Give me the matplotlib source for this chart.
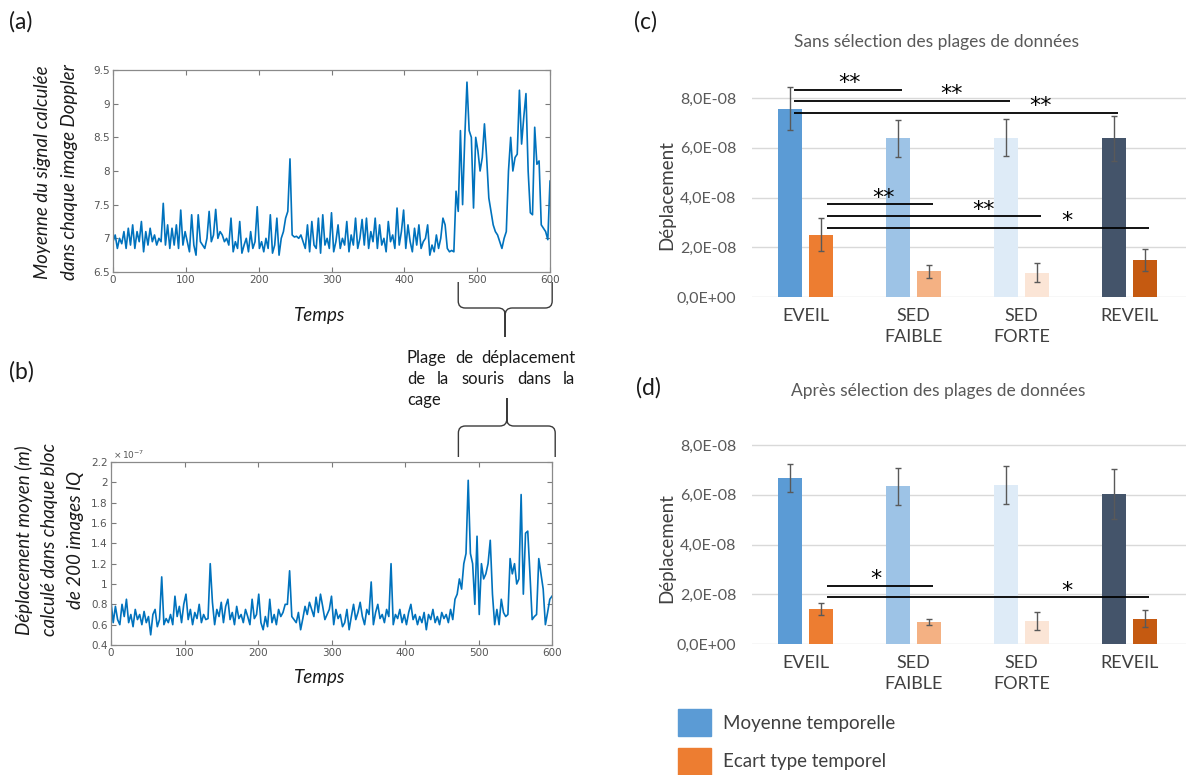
import numpy as np
import matplotlib
matplotlib.use("Agg")
import matplotlib.pyplot as plt
from matplotlib.path import Path
from matplotlib.patches import PathPatch, Rectangle
from matplotlib.ticker import FormatStrFormatter, FuncFormatter

# ---------------------------------------------------------------- data
SAMPLE_STEP = 3  # time units between plotted samples

# mean Doppler signal per image (panel a)
doppler_mean = [
    6.95, 7.05, 6.85, 7.0, 6.92, 7.1, 6.85, 7.15, 6.9, 7.2,
    6.85, 7.1, 6.95, 7.25, 6.8, 7.1, 6.9, 7.15, 6.95, 7.05,
    6.9, 7.0, 6.95, 7.52, 6.9, 7.2, 6.85, 7.15, 6.9, 7.2,
    6.85, 7.42, 6.9, 7.1, 6.95, 6.8, 7.35, 6.9, 6.75, 7.35,
    6.95, 6.9, 6.85, 7.0, 7.4, 6.95, 7.05, 7.43, 7.0, 7.1,
    7.05, 6.95, 7.0, 6.9, 7.3, 6.8, 6.95, 6.85, 7.25, 6.78,
    6.9, 7.0, 6.8, 7.1, 6.85, 6.95, 7.47, 6.85, 6.95, 6.8,
    7.0, 6.85, 7.35, 6.78, 6.9, 7.3, 6.75, 7.0, 7.1, 7.3,
    7.4, 8.18, 7.05, 7.02, 7.03, 7.0, 7.05, 6.95, 6.85, 7.2,
    6.8, 7.25, 6.9, 6.85, 7.3, 6.78, 7.35, 6.9, 7.0, 6.85,
    7.38, 6.8, 6.95, 7.2, 6.85, 7.0, 6.9, 7.25, 6.8, 7.05,
    6.9, 7.3, 6.85, 7.0, 7.28, 6.9, 7.3, 6.85, 7.1, 6.95,
    7.3, 6.85, 7.2, 6.9, 7.0, 6.8, 7.25, 6.95, 7.05, 6.85,
    7.45, 6.9, 7.1, 7.42, 6.85, 7.2, 6.95, 6.8, 7.15, 6.9,
    7.2, 6.85, 6.95, 7.0, 7.2, 6.75, 6.9, 6.8, 7.05, 6.85,
    7.0, 7.3, 7.2, 6.85, 6.8, 6.82, 6.8, 7.7, 7.4, 8.6,
    7.5, 8.5, 9.32, 8.6, 8.5, 7.45, 8.5, 8.3, 8.0, 8.2,
    8.7, 8.2, 7.6, 7.4, 7.2, 7.1, 7.05, 6.95, 6.85, 7.0,
    7.1, 8.0, 8.5, 8.0, 8.2, 8.25, 9.2, 8.4, 8.8, 9.15,
    8.0, 7.38, 7.35, 8.65, 8.1, 8.15, 7.2, 7.15, 7.1, 6.98,
    7.85,
]

# mean displacement per block of 200 IQ images, in units of 1e-7 m (panel b)
displacement_e7 = [
    0.83, 0.62, 0.78, 0.65, 0.6, 0.8, 0.68, 0.85, 0.62, 0.7,
    0.58, 0.75, 0.65, 0.7, 0.6, 0.73, 0.62, 0.68, 0.5, 0.7,
    0.75, 0.58, 0.65, 1.07, 0.6, 0.66, 0.62, 0.7, 0.6, 0.88,
    0.68, 0.78, 0.62, 0.8, 0.9, 0.65, 0.75, 0.6, 0.72, 0.66,
    0.8, 0.62, 0.7, 0.65, 0.66, 1.2, 0.82, 0.6, 0.75, 0.68,
    0.82, 0.62, 0.78, 0.85, 0.65, 0.72, 0.6, 0.78, 0.66, 0.7,
    0.62, 0.75, 0.68, 0.6, 0.85, 0.66, 0.7, 0.9, 0.62, 0.55,
    0.68, 0.58, 0.85, 0.62, 0.7, 0.6, 0.75, 0.68, 0.72, 0.8,
    0.8, 1.13, 0.68, 0.65, 0.62, 0.72, 0.55, 0.66, 0.78, 0.7,
    0.82, 0.75, 0.68, 0.87, 0.72, 0.9, 0.78, 0.65, 0.7, 0.75,
    0.88, 0.6, 0.75, 0.66, 0.7, 0.58, 0.62, 0.75, 0.55, 0.68,
    0.8, 0.65, 0.72, 0.82, 0.68, 0.6, 0.75, 0.7, 1.02, 0.6,
    0.72, 0.8, 0.66, 0.7, 0.62, 0.75, 0.68, 1.2, 0.6, 0.7,
    0.66, 0.75, 0.62, 0.7, 0.6, 0.72, 0.8, 0.65, 0.7, 0.6,
    0.68, 0.62, 0.72, 0.55, 0.7, 0.65, 0.75, 0.62, 0.68, 0.6,
    0.72, 0.66, 0.7, 0.62, 0.75, 0.65, 0.85, 0.9, 1.05, 0.95,
    1.2, 1.3, 2.02, 1.3, 1.2, 0.8, 1.47, 0.7, 1.2, 1.05,
    1.1, 1.2, 1.43, 0.9, 0.6, 0.75, 0.6, 0.85, 0.72, 0.68,
    0.7, 1.25, 1.1, 1.2, 1.0, 1.05, 1.88, 0.9, 1.5, 1.52,
    1.1, 0.65, 0.68, 0.7, 1.25, 1.1, 0.95, 0.6, 0.72, 0.85,
    0.88,
]

# window where the mouse moves in the cage (time units)
movement_window = (474, 603)

states = ["EVEIL", "SED\nFAIBLE", "SED\nFORTE", "REVEIL"]
legend_labels = ["Moyenne temporelle", "Ecart type temporel"]

# panel c: without data-range selection
raw_mean = [7.57e-8, 6.38e-8, 6.41e-8, 6.38e-8]
raw_mean_err = [0.87e-8, 0.74e-8, 0.76e-8, 0.90e-8]
raw_std = [2.51e-8, 1.03e-8, 0.98e-8, 1.49e-8]
raw_std_err = [0.68e-8, 0.27e-8, 0.38e-8, 0.45e-8]

# panel d: after data-range selection
sel_mean = [6.68e-8, 6.34e-8, 6.38e-8, 6.02e-8]
sel_mean_err = [0.55e-8, 0.75e-8, 0.76e-8, 1.00e-8]
sel_std = [1.40e-8, 0.90e-8, 0.93e-8, 1.02e-8]
sel_std_err = [0.23e-8, 0.12e-8, 0.37e-8, 0.35e-8]

# significance brackets: (series, from state, to state, level, label)
raw_sig = [
    ("mean", 0, 1, 8.34e-8, "**"),
    ("mean", 0, 2, 7.88e-8, "**"),
    ("mean", 0, 3, 7.39e-8, "**"),
    ("std", 0, 1, 3.73e-8, "**"),
    ("std", 0, 2, 3.24e-8, "**"),
    ("std", 0, 3, 2.77e-8, "*"),
]
sel_sig = [
    ("std", 0, 1, 2.34e-8, "*"),
    ("std", 0, 3, 1.87e-8, "*"),
]

# ---------------------------------------------------------------- style
mean_colors = ["#5B9BD5", "#9DC3E6", "#DEEBF7", "#44546A"]
std_colors = ["#ED7D31", "#F4B183", "#FBE5D6", "#C55A11"]
MATLAB_BLUE = "#0072BD"
SANS = ["Lato", "DejaVu Sans"]
XL_GRAY = "#595959"
XL_DARK = "#404040"

W, H = 1186, 775
fig = plt.figure(figsize=(W / 100, H / 100), dpi=100)
fig.patch.set_facecolor("white")


def axes_px(left, top, right, bottom):
    """Add axes given by its pixel box (y measured from the top)."""
    return fig.add_axes([left / W, 1 - bottom / H, (right - left) / W, (bottom - top) / H])


def matlab_style(ax, yticks, ylim):
    ax.set_xlim(0, 600)
    ax.set_ylim(*ylim)
    ax.set_xticks(range(0, 601, 100))
    ax.set_yticks(yticks)
    ax.yaxis.set_major_formatter(FormatStrFormatter("%g"))
    ax.tick_params(direction="in", top=True, right=True, length=3.5, width=0.8,
                   color="#7a7a7a", labelsize=7.5, labelcolor="#555555", pad=2.5)
    for sp in ax.spines.values():
        sp.set_color("#8a8a8a")
        sp.set_linewidth(0.9)
    for lab in ax.get_xticklabels() + ax.get_yticklabels():
        lab.set_family("DejaVu Sans")


time = np.arange(len(doppler_mean)) * SAMPLE_STEP

# ---- panel (a)
ax_a = axes_px(113, 70, 550, 272)
ax_a.plot(time, doppler_mean, color=MATLAB_BLUE, lw=1.2)
matlab_style(ax_a, [6.5, 7, 7.5, 8, 8.5, 9, 9.5], (6.5, 9.5))

# ---- panel (b)
ax_b = axes_px(111, 462, 552, 645)
ax_b.plot(time, displacement_e7, color=MATLAB_BLUE, lw=1.2)
matlab_style(ax_b, [0.4, 0.6, 0.8, 1, 1.2, 1.4, 1.6, 1.8, 2, 2.2], (0.4, 2.2))
ax_b.text(0.005, 1.005, r"$\times\,10^{-7}$", transform=ax_b.transAxes, ha="left",
          va="bottom", fontsize=6.5, color="#555555")


# ---- bar panels (c) and (d)
def excel_sci(v, _pos=None):
    return f"{v:.1E}".replace(".", ",")


def bar_panel(ax, means, mean_err, stds, std_err, sigs, star_frac):
    x = np.arange(len(states))
    width, off = 0.222, 0.1435
    ekw = dict(ecolor="#595959", elinewidth=1.0, capsize=2.5, capthick=1.0)
    ax.bar(x - off, means, width, color=mean_colors, yerr=mean_err, error_kw=ekw, zorder=2)
    ax.bar(x + off, stds, width, color=std_colors, yerr=std_err, error_kw=ekw, zorder=2)
    ax.set_xlim(-0.5, 3.52)
    ax.set_ylim(0, 9e-8)
    ax.set_yticks([0, 2e-8, 4e-8, 6e-8, 8e-8])
    ax.yaxis.set_major_formatter(FuncFormatter(excel_sci))
    ax.set_xticks(x)
    ax.set_xticklabels(states, linespacing=1.35)
    ax.yaxis.grid(True, color="#D9D9D9", lw=1.0)
    ax.set_axisbelow(True)
    for sp in ax.spines.values():
        sp.set_visible(False)
    ax.tick_params(axis="y", length=0, pad=11, labelsize=11.5, labelcolor=XL_GRAY)
    ax.tick_params(axis="x", length=0, pad=8, labelsize=13, labelcolor=XL_DARK)
    for lab in ax.get_xticklabels() + ax.get_yticklabels():
        lab.set_family(SANS)
    for (series, i0, i1, level, label), frac in zip(sigs, star_frac):
        if series == "mean":
            xs, xe = i0 - 0.11, i1 - 0.11
        else:
            xs, xe = i0 + 0.20, i1 + 0.18
        ax.plot([xs, xe], [level, level], color="black", lw=1.3, zorder=4,
                solid_capstyle="butt")
        ax.annotate(label, (xs + frac * (xe - xs), level), xytext=(0, 0.5),
                    textcoords="offset points", ha="center", va="baseline",
                    fontsize=16, color="black", family="DejaVu Sans", zorder=5)


ax_c = axes_px(751.5, 297 - 9 * 24.875, 1186, 297)
bar_panel(ax_c, raw_mean, raw_mean_err, raw_std, raw_std_err, raw_sig,
          [0.52, 0.73, 0.76, 0.535, 0.73, 0.745])

ax_d = axes_px(751.5, 644 - 9 * 24.875, 1186, 644)
bar_panel(ax_d, sel_mean, sel_mean_err, sel_std, sel_std_err, sel_sig, [0.46, 0.745])

# ---------------------------------------------------------------- overlay (pixel coordinates, y down)
ov = fig.add_axes([0, 0, 1, 1], zorder=10)
ov.set_xlim(0, W)
ov.set_ylim(H, 0)
ov.axis("off")
ov.patch.set_alpha(0)

TXT = "#1a1a1a"
for s, x, y in [("(a)", 9, 22), ("(b)", 9, 372), ("(c)", 634, 22), ("(d)", 636, 388)]:
    ov.text(x, y, s, ha="left", va="center", fontsize=16.5, color=TXT, family=SANS)

# italic axis labels of the time series panels
ital = dict(fontsize=13.5, style="italic", color=TXT, family=SANS, rotation=90,
            ha="center", va="center")
ov.text(43, 172, "Moyenne du signal calculée", **ital)
ov.text(70, 172, "dans chaque image Doppler", **ital)
ov.text(24, 540, "Déplacement moyen (m)", **ital)
ov.text(50, 540, "calculé dans chaque bloc", **ital)
ov.text(76, 540, "de 200 images IQ", **ital)
ov.text(320, 315, "Temps", fontsize=13.5, style="italic", color=TXT, family=SANS,
        ha="center", va="center")
ov.text(320, 677, "Temps", fontsize=13.5, style="italic", color=TXT, family=SANS,
        ha="center", va="center")

# titles and y labels of the bar panels
ov.text(937, 42, "Sans sélection des plages de données", fontsize=12.5, color=XL_GRAY,
        family=SANS, ha="center", va="center")
ov.text(938, 391, "Après sélection des plages de données", fontsize=12.5, color=XL_GRAY,
        family=SANS, ha="center", va="center")
for yc in (195, 548):
    ov.text(667, yc, "Déplacement", fontsize=13.5, color=XL_DARK, family=SANS,
            rotation=90, ha="center", va="center")

# legend
for k, (lab, col) in enumerate(zip(legend_labels, [mean_colors[0], std_colors[0]])):
    top = 709 + 39 * k
    ov.add_patch(Rectangle((678, top), 33, 27, color=col, clip_on=False))
    ov.text(723, top + 14, lab, fontsize=13.5, color=XL_DARK, family=SANS,
            ha="left", va="center")


# curly braces marking the movement window
def data_to_px(ax, t, v):
    dx, dy = ax.transData.transform((t, v))
    return dx, H - dy


def brace(x0, x1, y_end, y_bar, y_tip, r=7):
    xc = 0.5 * (x0 + x1)
    s = np.sign(y_bar - y_end)
    verts, codes = [], []
    for xe, d in ((x0, 1), (x1, -1)):
        verts += [(xe, y_end), (xe, y_bar - s * r), (xe, y_bar), (xe + d * r, y_bar),
                  (xc - d * r, y_bar), (xc, y_bar), (xc, y_bar + s * r), (xc, y_tip)]
        codes += [Path.MOVETO, Path.LINETO, Path.CURVE3, Path.CURVE3,
                  Path.LINETO, Path.CURVE3, Path.CURVE3, Path.LINETO]
    ov.add_patch(PathPatch(Path(verts, codes), fill=False, edgecolor="#3a3a3a", lw=1.0,
                           clip_on=False))


bx0, _ = data_to_px(ax_a, movement_window[0], 6.5)
bx1, _ = data_to_px(ax_a, movement_window[1], 6.5)
brace(bx0, bx1, 282, 308, 337)
cx0, _ = data_to_px(ax_b, movement_window[0], 2.2)
cx1, _ = data_to_px(ax_b, movement_window[1], 2.2)
brace(cx0 - 1, cx1 + 1, 457, 426, 398)

# justified caption between the braces
renderer = fig.canvas.get_renderer()
caption = ["Plage de déplacement", "de la souris dans la", "cage"]
cap_kw = dict(fontsize=12, color=TXT, family=SANS, va="center", ha="left")
x_left, x_right = 407, 575
for k, line in enumerate(caption):
    y = 358 + 21 * k
    words = line.split()
    if k == len(caption) - 1 or len(words) == 1:
        ov.text(x_left, y, line, **cap_kw)
        continue
    items = [ov.text(0, y, w_, **cap_kw) for w_ in words]
    widths = [t.get_window_extent(renderer).width for t in items]
    gap = (x_right - x_left - sum(widths)) / (len(words) - 1)
    xpos = x_left
    for t, wd in zip(items, widths):
        t.set_x(xpos)
        xpos += wd + gap

fig.savefig("out.png", dpi=100, facecolor="white")
